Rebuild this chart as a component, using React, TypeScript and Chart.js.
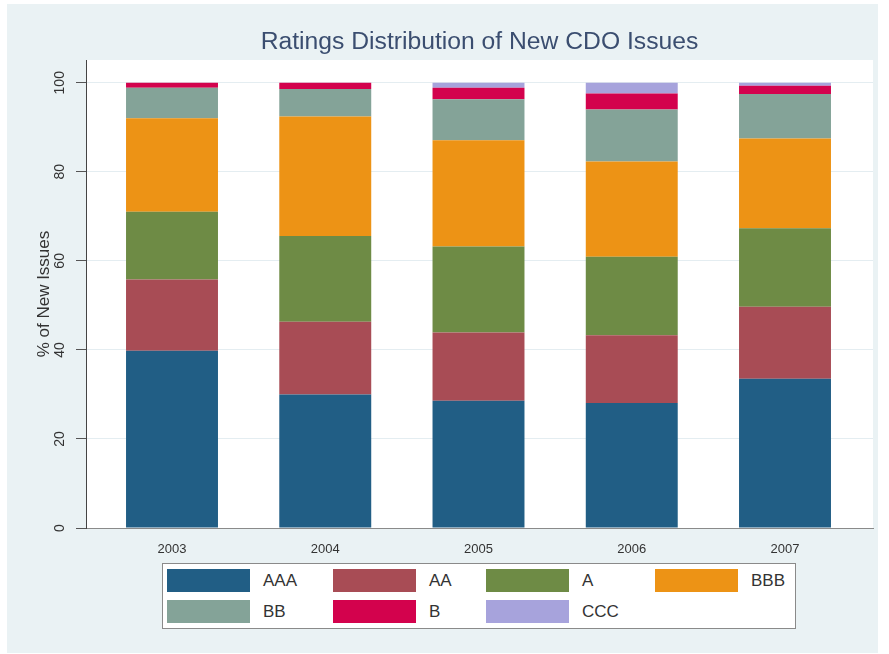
import React, { useEffect, useRef } from "react";
import { Chart, registerables } from "chart.js";

Chart.register(...registerables);

const years = ["2003", "2004", "2005", "2006", "2007"];
const ratings = ["AAA", "AA", "A", "BBB", "BB", "B", "CCC"];
const AAA = [39.8, 30.0, 28.6, 28.1, 33.5];
const AA = [16.0, 16.3, 15.3, 15.2, 16.2];
const A = [15.2, 19.3, 19.3, 17.6, 17.6];
const BBB = [21.0, 26.8, 23.9, 21.4, 20.2];
const BB = [6.9, 6.2, 9.2, 11.7, 10.0];
const B = [1.1, 1.4, 2.6, 3.6, 1.8];
const CCC = [0.0, 0.0, 1.1, 2.4, 0.7];
const seriesValues = [AAA, AA, A, BBB, BB, B, CCC];
const colors = ["#215e85", "#a84c55", "#6e8b45", "#ed9315", "#84a398", "#d3024d", "#a7a3dc"];
const yTicks = [0, 20, 40, 60, 80, 100];
const title = "Ratings Distribution of New CDO Issues";
const yTitle = "% of New Issues";

const FONT = "'Liberation Sans', Arial, Helvetica, sans-serif";
const W = 871;
const H = 649;

const plotBg = {
  id: "plotBg",
  beforeDraw(chart: any) {
    const { ctx, chartArea } = chart;
    ctx.save();
    ctx.fillStyle = "#ffffff";
    ctx.fillRect(chartArea.left, chartArea.top, chartArea.right - chartArea.left, chartArea.bottom - chartArea.top);
    ctx.restore();
  },
};

export default function App() {
  const ref = useRef<HTMLCanvasElement | null>(null);

  useEffect(() => {
    if (!ref.current) return;
    Chart.defaults.font.family = FONT;
    const chart = new Chart(ref.current, {
      type: "bar",
      data: {
        datasets: ratings.map((r, k) => ({
          label: r,
          data: seriesValues[k].map((v, i) => ({ x: i, y: v })),
          backgroundColor: colors[k],
          borderWidth: 0,
          barPercentage: 0.6,
          categoryPercentage: 1,
        })),
      },
      options: {
        animation: false,
        responsive: false,
        layout: { padding: { top: 0, right: 5, bottom: 95, left: 0 } },
        plugins: {
          legend: { display: false },
          tooltip: { enabled: false },
          title: {
            display: true,
            text: title,
            fullSize: false,
            color: "#3b4e70",
            font: { size: 24.7, weight: "normal", family: FONT, lineHeight: 1.2 },
            padding: { top: 23.6, bottom: 2.8 },
          },
        },
        scales: {
          x: {
            type: "linear",
            offset: false,
            min: -0.5612,
            max: 4.5742,
            stacked: true,
            afterBuildTicks: (s: any) => {
              s.ticks = years.map((_, i) => ({ value: i }));
            },
            afterFit: (s: any) => {
              s.height = 30;
            },
            grid: { display: false, drawTicks: false, offset: false },
            border: { display: true, color: "#8a8a8a", width: 1 },
            ticks: {
              color: "#333",
              font: { size: 13, family: FONT },
              padding: 14,
              maxRotation: 0,
              autoSkip: false,
              callback: (v: any) => years[Math.round(Number(v))] ?? "",
            },
          },
          y: {
            type: "linear",
            min: 0,
            max: 105.1,
            stacked: true,
            afterBuildTicks: (s: any) => {
              s.ticks = yTicks.map((v) => ({ value: v }));
            },
            afterFit: (s: any) => {
              s.width = 79;
            },
            grid: {
              color: "#e4edf1",
              lineWidth: 1,
              drawTicks: true,
              tickLength: 10,
              tickColor: "#555",
            },
            border: { display: true, color: "#444", width: 1 },
            ticks: {
              color: "#333",
              font: { size: 14, family: FONT },
              minRotation: 90,
              maxRotation: 90,
              crossAlign: "center",
              padding: 4,
            },
            title: {
              display: true,
              text: yTitle,
              color: "#333",
              font: { size: 17, family: FONT, lineHeight: 1.2 },
              padding: { top: 27, bottom: 0 },
            },
          },
        },
      },
      plugins: [plotBg],
    } as any);
    return () => chart.destroy();
  }, []);

  const colWidths = [166, 153, 169, 130];

  return (
    <div
      style={{
        position: "absolute",
        left: 7,
        top: 4,
        width: W,
        height: H,
        background: "#eaf2f4",
        fontFamily: FONT,
      }}
    >
      <canvas ref={ref} width={W} height={H} style={{ position: "absolute", left: 0, top: 0, width: W, height: H }} />
      <div
        style={{
          position: "absolute",
          left: 155,
          top: 559,
          width: 634,
          height: 66,
          boxSizing: "border-box",
          border: "1px solid #8a8a8a",
          background: "#ffffff",
          paddingLeft: 4,
          display: "grid",
          gridTemplateColumns: colWidths.map((w) => w + "px").join(" "),
          gridTemplateRows: "23px 23px",
          rowGap: 8,
          alignContent: "center",
        }}
      >
        {ratings.map((r, k) => (
          <div key={r} style={{ display: "flex", alignItems: "center", height: 23 }}>
            <div style={{ width: 83, height: 23, background: colors[k], flex: "none" }} />
            <span style={{ marginLeft: 13, fontSize: 17, color: "#333", lineHeight: "23px" }}>{r}</span>
          </div>
        ))}
      </div>
    </div>
  );
}
